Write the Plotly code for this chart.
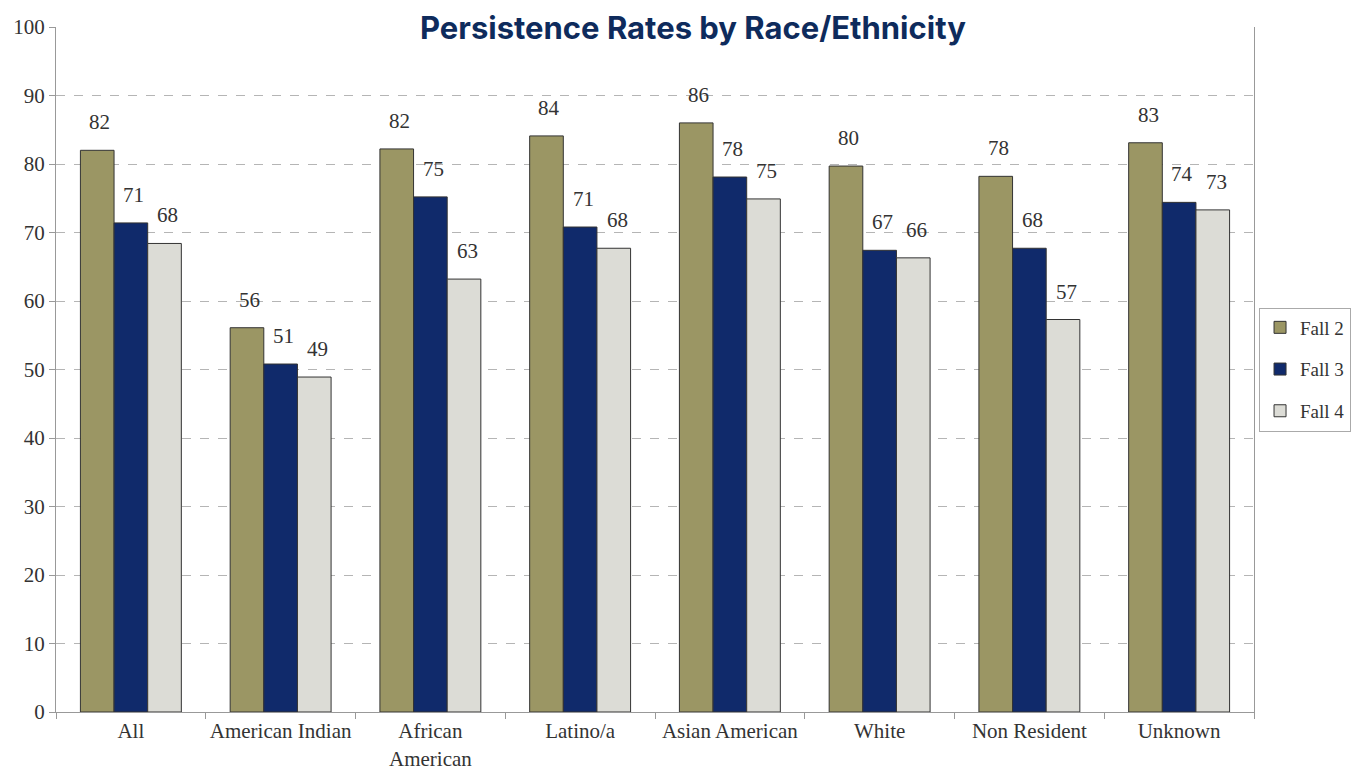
import plotly.graph_objects as go

categories = ["All", "American Indian", "African<br>American", "Latino/a",
              "Asian American", "White", "Non Resident", "Unknown"]
fall2 = [82.0, 56.1, 82.2, 84.1, 86.0, 79.7, 78.2, 83.1]
fall3 = [71.4, 50.8, 75.2, 70.8, 78.1, 67.4, 67.7, 74.4]
fall4 = [68.4, 48.9, 63.2, 67.7, 74.9, 66.3, 57.3, 73.3]
series_names = ["Fall 2", "Fall 3", "Fall 4"]
y_ticks = [0, 10, 20, 30, 40, 50, 60, 70, 80, 90, 100]

colors = ["#9b9664", "#102a6b", "#dcdcd6"]
serif = "Liberation Serif, Times New Roman, serif"

fig = go.Figure()
for i, (name, vals) in enumerate(zip(series_names, [fall2, fall3, fall4])):
    fig.add_trace(go.Bar(
        x=categories, y=vals, name=name,
        marker=dict(color=colors[i], line=dict(color="#333333", width=1)),
        legendgroup=name,
    ))
    for c, v in zip(categories, vals):
        fig.add_annotation(
            x=c, y=v, xref="x", yref="y", text=f"{v:.0f}",
            showarrow=False, xshift=(i - 1) * 34 + 3, yshift=28,
            font=dict(family=serif, size=21, color="#333333"),
        )

fig.add_annotation(
    x=0.532, y=1.0, xref="paper", yref="paper", yanchor="middle",
    text="<b>Persistence Rates by Race/Ethnicity</b>", showarrow=False,
    font=dict(family="Inter, Lato, sans-serif", size=31, color="#0e2b5c",
              weight=900),
    bgcolor="white", borderpad=8,
)

fig.update_layout(
    width=1352, height=763,
    margin=dict(l=48, r=106, t=19, b=59, autoexpand=False),
    plot_bgcolor="white", paper_bgcolor="white",
    barmode="group", bargap=0.326, bargroupgap=0,
    showlegend=True,
    legend=dict(
        x=1.0042, y=0.5, xanchor="left", yanchor="middle",
        bordercolor="#aaaaaa", borderwidth=1,
        font=dict(family=serif, size=19, color="#333333"),
        traceorder="grouped", tracegroupgap=14, itemwidth=30,
    ),
    xaxis=dict(
        automargin=False, tickangle=0,
        tickfont=dict(family=serif, size=21, color="#333333"),
        ticks="outside", tickson="boundaries", ticklen=6, tickcolor="#999999",
        showline=True, linecolor="#999999", linewidth=1, mirror=False,
    ),
    yaxis=dict(
        automargin=False,
        range=[0, 100], tickvals=y_ticks,
        tickfont=dict(family=serif, size=21, color="#333333"),
        ticks="outside", ticklen=6, tickcolor="#999999",
        showline=True, linecolor="#999999", linewidth=1, mirror=True,
        showgrid=True, gridcolor="#b5b5b5", griddash="dash", gridwidth=1,
        zeroline=False,
    ),
)

fig.write_html("out.html")
